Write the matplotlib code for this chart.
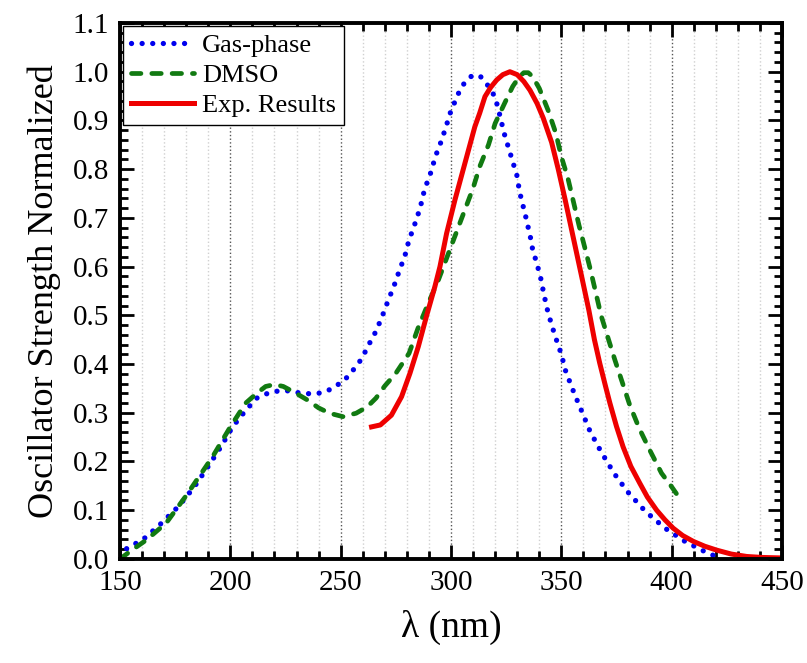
import numpy as np
import matplotlib.pyplot as plt
from matplotlib.ticker import MultipleLocator

plt.rcParams['font.family'] = ['Liberation Serif', 'DejaVu Serif']

# Gas-phase (blue dotted)
gas_x = [150, 151, 155, 160, 168, 177, 184, 190, 196, 201, 207, 212, 217, 222, 226, 231, 236, 240, 244,
         248, 253, 257, 260, 262, 265, 267, 269, 272, 274, 277, 279, 281, 283, 286, 288, 291, 293, 295,
         298, 299, 301, 303, 305, 307, 309, 311, 313, 315, 317, 320, 322, 324, 327, 330, 331, 334, 336,
         337, 339, 341, 342, 344, 347, 350, 352, 356, 360, 363, 368, 374, 380, 388, 397, 406, 415, 420, 422]
gas_y = [0.005, 0.015, 0.027, 0.038, 0.07, 0.11, 0.15, 0.19, 0.232, 0.271, 0.305, 0.33, 0.34, 0.345, 0.345, 0.341, 0.339, 0.34, 0.345,
         0.355, 0.373, 0.395, 0.414, 0.434, 0.458, 0.478, 0.5, 0.536, 0.558, 0.597, 0.62, 0.655, 0.679, 0.72, 0.758, 0.795, 0.827, 0.85,
         0.89, 0.908, 0.93, 0.952, 0.97, 0.982, 0.99, 0.993, 0.992, 0.982, 0.97, 0.948, 0.913, 0.875, 0.83, 0.785, 0.755, 0.7, 0.66,
         0.635, 0.605, 0.57, 0.545, 0.505, 0.46, 0.42, 0.385, 0.338, 0.295, 0.262, 0.22, 0.175, 0.138, 0.098, 0.063, 0.036, 0.015, 0.005, 0.002]

# DMSO (green dashed)
dmso_x = [150, 156, 162, 171, 180, 186, 192, 200, 207, 212, 216, 220, 224, 229, 235, 240, 245, 251, 257,
          262, 266, 270, 275, 281, 285, 290, 294, 298, 302, 306, 310, 313, 317, 320, 325, 328, 331, 333,
          335, 337, 340, 344, 347.5, 350, 353, 355.5, 358, 360.7, 363, 365.5, 368, 371, 374.3, 377.8, 381,
          385.3, 390, 395.4, 400, 404]
dmso_y = [0.0, 0.02, 0.039, 0.074, 0.13, 0.17, 0.21, 0.271, 0.32, 0.34, 0.354, 0.358, 0.354, 0.342, 0.326, 0.31, 0.299, 0.292, 0.299,
          0.312, 0.33, 0.355, 0.381, 0.422, 0.473, 0.528, 0.569, 0.617, 0.665, 0.713, 0.761, 0.805, 0.85, 0.894, 0.942, 0.97, 0.99, 0.998,
          0.998, 0.99, 0.966, 0.921, 0.874, 0.826, 0.781, 0.733, 0.685, 0.638, 0.597, 0.549, 0.5, 0.456, 0.408, 0.36, 0.316,
          0.268, 0.224, 0.176, 0.148, 0.122]

# Experimental results (red solid)
exp_x = [264, 268, 273, 277.6, 281.4, 285.2, 289, 292.7, 295, 298, 301.8, 306.3, 310.8, 313, 315.4, 318, 320.7, 323.5,
         326.7, 330, 333, 335.8, 339, 341.8, 345.6, 348.6, 351.6, 355.4, 359.2, 362.5, 365, 367.4, 370, 372, 375,
         378, 381.5, 385.6, 389, 393.2, 397, 400.7, 405, 409.8, 415, 420.4, 427, 434, 441, 450]
exp_y = [0.271, 0.275, 0.295, 0.333, 0.381, 0.436, 0.5, 0.559, 0.6, 0.668, 0.737, 0.812, 0.887, 0.915, 0.949, 0.968, 0.983, 0.994,
         1.0, 0.994, 0.98, 0.962, 0.935, 0.905, 0.855, 0.8, 0.74, 0.66, 0.58, 0.51, 0.45, 0.402, 0.355, 0.32, 0.272,
         0.23, 0.19, 0.155, 0.127, 0.1, 0.08, 0.063, 0.048, 0.036, 0.026, 0.018, 0.01, 0.005, 0.003, 0.002]

fig = plt.figure(figsize=(8.07, 6.63), dpi=100)
ax = fig.add_axes([0.1487, 0.157, 0.8203, 0.8083])

ax.plot(gas_x, gas_y, color='#0000ee', linestyle=(0, (0.01, 2.0)), lw=3.8, dash_capstyle='round',
        label='Gas-phase')
ax.plot(dmso_x, dmso_y, color='#117a11', linestyle=(0, (2.0, 2.3)), lw=3.4, dash_capstyle='round',
        label='DMSO')
ax.plot(exp_x, exp_y, color='#ee0000', linestyle='-', lw=3.6, label='Exp. Results')

ax.set_xlim(150, 450)
ax.set_ylim(0, 1.1)
ax.xaxis.set_major_locator(MultipleLocator(50))
ax.xaxis.set_minor_locator(MultipleLocator(10))
ax.yaxis.set_major_locator(MultipleLocator(0.1))
ax.yaxis.set_minor_locator(MultipleLocator(0.02))
ax.yaxis.set_major_formatter(plt.FuncFormatter(lambda v, p: f'{v:.1f}'))

# Grid: dark dotted for major, light for minor
ax.grid(which='major', axis='x', color='#555555', linestyle=':', lw=1.0)
ax.grid(which='minor', axis='x', color='#d0d0d0', linestyle=':', lw=1.0)

ax.tick_params(which='both', direction='in', top=True, right=True, labelsize=21, width=2)
ax.tick_params(which='major', length=10, pad=8)
ax.tick_params(which='minor', length=6)
for s in ax.spines.values():
    s.set_linewidth(2.8)

ax.set_xlabel('λ (nm)', fontsize=27, labelpad=10)
ax.set_ylabel('Oscillator Strength Normalized', fontsize=26, labelpad=8)

leg = ax.legend(loc='upper left', fontsize=19, frameon=True, fancybox=False, borderaxespad=0.1,
                handlelength=2.4, handletextpad=0.3, labelspacing=0.25, borderpad=0.3)
leg.get_frame().set_edgecolor('black')
leg.get_frame().set_linewidth(1.0)
leg.get_frame().set_alpha(1)

fig.savefig('out.png', dpi=100)
